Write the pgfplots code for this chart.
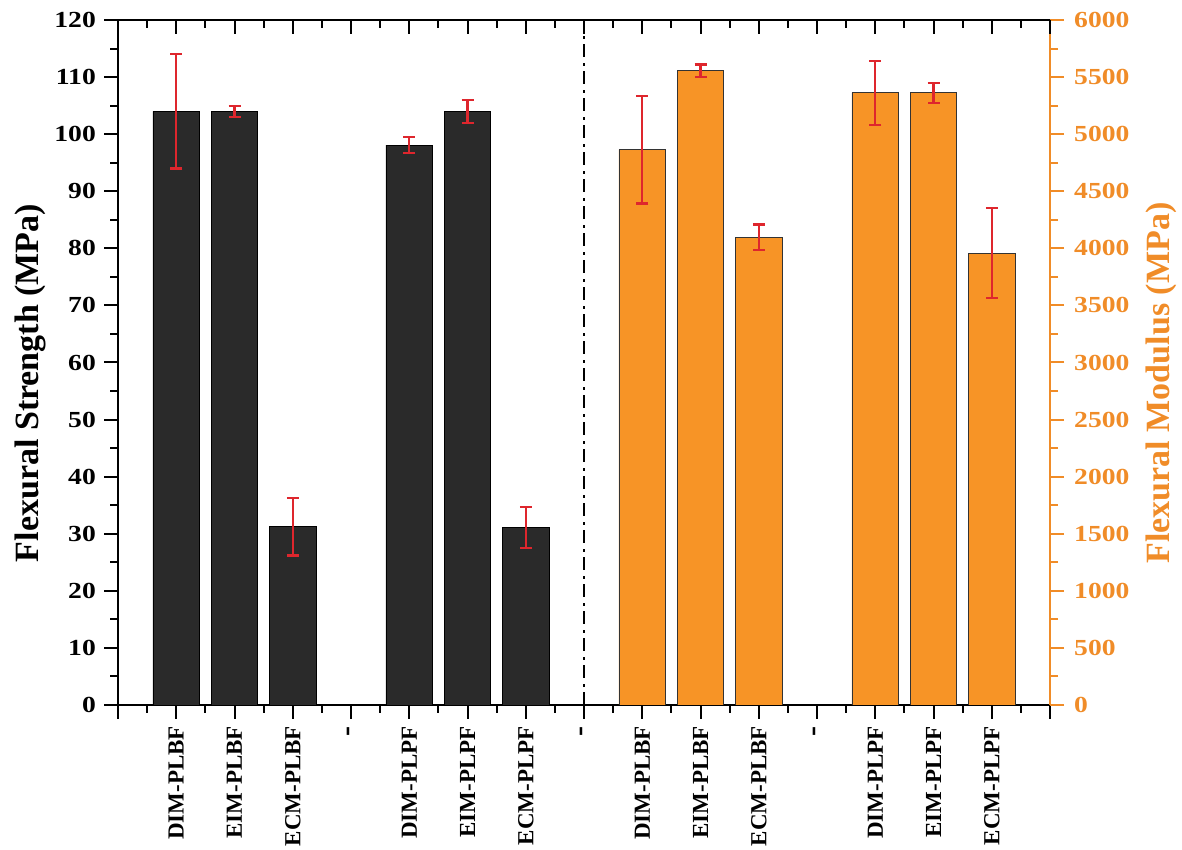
\documentclass[border=0pt]{standalone}
\usepackage{fontspec}
\setmainfont{Liberation Serif}
\newfontfamily\tickfont{Liberation Serif}[FakeStretch=1.2]
\usepackage{pgfplots}
\usepackage{pgfplotstable}
\pgfplotsset{compat=1.18}
\definecolor{barblack}{RGB}{42,42,42}
\definecolor{barorange}{RGB}{247,148,38}
\definecolor{axorange}{RGB}{240,140,40}
\definecolor{errred}{RGB}{222,38,45}

\pgfplotstableread{
x y e
1 104 10
2 104 1
3 31.2 5
5 98.1 1.4
6 104 2
7 31.1 3.6
}\strengthdata

\pgfplotstableread{
x y e
9 4865 472
10 5556 55
11 4096 112
13 5363 280
14 5363 88
15 3956 394
}\modulusdata

\begin{document}
\begin{tikzpicture}
\useasboundingbox (-118pt,-145pt) rectangle (1064pt,705pt);
\pgfplotsset{
  common/.style={
    scale only axis, width=932pt, height=685pt,
    at={(0pt,0pt)}, anchor=south west,
    xmin=0, xmax=16,
    major tick length=14pt, minor tick length=8pt,
    /pgf/number format/assume math mode=true,
    /pgf/number format/1000 sep={},
    scaled y ticks=false,
  }
}
% left axis: flexural strength
\begin{axis}[common,
  ymin=0, ymax=120,
  axis x line*=bottom, axis y line*=left,
  tick align=outside,
  axis line style={line width=2pt, black},
  every tick/.style={line width=2pt, black},
  every minor tick/.style={line width=2pt, black},
  xtick={0,...,16},
  xticklabels={,DIM-PLBF,EIM-PLBF,ECM-PLBF,{\fontsize{30}{30}\selectfont -},DIM-PLPF,EIM-PLPF,ECM-PLPF,{\fontsize{30}{30}\selectfont -},DIM-PLBF,EIM-PLBF,ECM-PLBF,{\fontsize{30}{30}\selectfont -},DIM-PLPF,EIM-PLPF,ECM-PLPF,},
  minor x tick num=1,
  x tick label style={rotate=90, anchor=east, font=\fontsize{23}{27}\selectfont\bfseries, inner sep=0pt},
  xticklabel shift=7pt,
  ytick={0,10,...,120},
  minor y tick num=1,
  y tick label style={font=\tickfont\bfseries\fontsize{23}{27}\selectfont, inner sep=0pt},
  yticklabel shift=8pt,
  ylabel={Flexural Strength (MPa)},
  ylabel style={font=\fontsize{34}{40}\selectfont\bfseries, at={(axis description cs:-0.0944,0.47)}, anchor=center},
  ybar, bar width=0.8,
]
\addplot[fill=barblack, draw=black, line width=0.8pt,
  error bars/.cd, y dir=both, y explicit,
  error bar style={line width=2.2pt, errred},
  error mark options={rotate=90, line width=2.2pt, errred, mark size=6pt}]
  table[x=x, y=y, y error=e] {\strengthdata};
\draw[line width=2pt, dash pattern=on 13pt off 5pt on 3pt off 6pt] (axis cs:8,0) -- (axis cs:8,120);
\end{axis}
% right axis: flexural modulus
\begin{axis}[common,
  ymin=0, ymax=6000,
  axis y line*=right, axis x line=none,
  tick align=outside,
  axis line style={line width=2pt, axorange},
  every tick/.style={line width=2pt, axorange},
  every minor tick/.style={line width=2pt, axorange},
  ytick={0,500,...,6000},
  minor y tick num=1,
  y tick label style={font=\tickfont\bfseries\fontsize{23}{27}\selectfont, text=axorange, inner sep=0pt},
  yticklabel shift=10pt,
  ylabel={Flexural Modulus (MPa)},
  ylabel style={font=\fontsize{34}{40}\selectfont\bfseries, text=axorange, at={(axis description cs:1.119,0.47)}, anchor=center},
  ybar, bar width=0.8,
]
\addplot[fill=barorange, draw=black!80, line width=0.8pt,
  error bars/.cd, y dir=both, y explicit,
  error bar style={line width=2.2pt, errred},
  error mark options={rotate=90, line width=2.2pt, errred, mark size=6pt}]
  table[x=x, y=y, y error=e] {\modulusdata};
\end{axis}
% top axis line with inward ticks
\begin{axis}[common,
  ymin=0, ymax=1,
  axis x line*=top, axis y line=none,
  tick align=inside,
  axis line style={line width=2pt, black},
  every tick/.style={line width=2pt, black},
  every minor tick/.style={line width=2pt, black},
  xtick={0,...,16}, xticklabels={},
  minor x tick num=1,
  ytick=\empty,
]
\end{axis}
\end{tikzpicture}
\end{document}
